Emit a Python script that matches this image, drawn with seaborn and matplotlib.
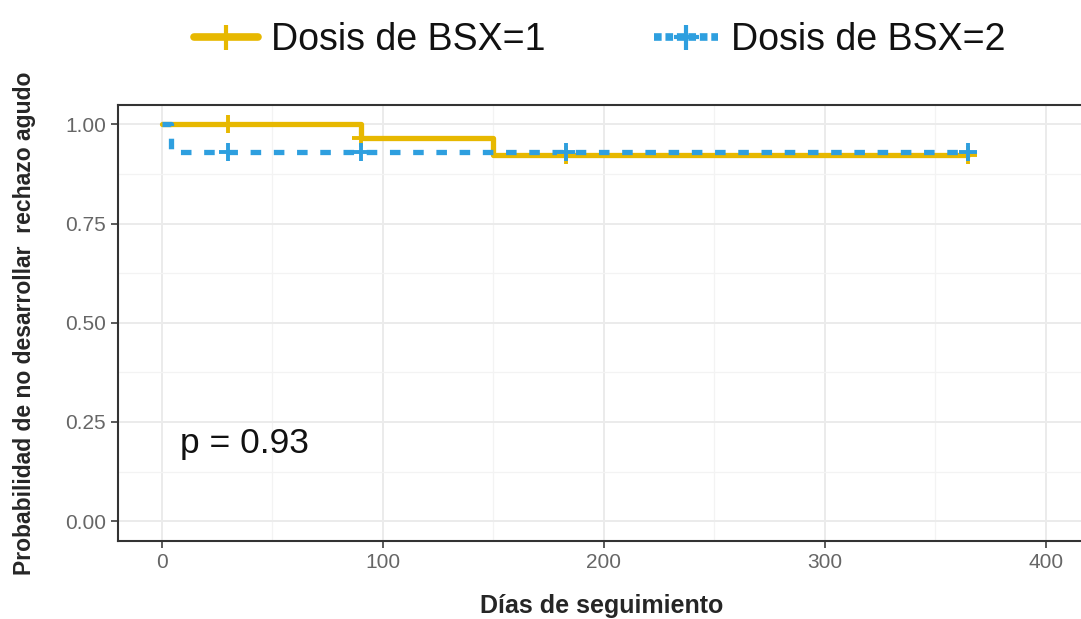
import pandas as pd
import matplotlib.pyplot as plt
import seaborn as sns
from matplotlib.lines import Line2D

# curvas Kaplan-Meier (escalones)
grupos = ["Dosis de BSX=1", "Dosis de BSX=2"]
t_g1 = [0, 90, 150, 365]
s_g1 = [1.0, 0.966, 0.922, 0.922]
t_g2 = [0, 4, 365]
s_g2 = [1.0, 0.929, 0.929]

# marcas de censura
cens_t_g1 = [30, 90, 183, 365]
cens_s_g1 = [1.0, 0.966, 0.922, 0.922]
cens_t_g2 = [30, 90, 183, 365]
cens_s_g2 = [0.929, 0.929, 0.929, 0.929]

colores = {"Dosis de BSX=1": "#E7B800", "Dosis de BSX=2": "#2E9FDF"}

curvas = pd.concat([
    pd.DataFrame({"tiempo": t_g1, "surv": s_g1, "grupo": grupos[0]}),
    pd.DataFrame({"tiempo": t_g2, "surv": s_g2, "grupo": grupos[1]}),
])
censuras = pd.concat([
    pd.DataFrame({"tiempo": cens_t_g1, "surv": cens_s_g1, "grupo": grupos[0]}),
    pd.DataFrame({"tiempo": cens_t_g2, "surv": cens_s_g2, "grupo": grupos[1]}),
])

sns.set_style("whitegrid")
plt.rcParams['font.family'] = ['Liberation Sans', 'DejaVu Sans']

fig = plt.figure(figsize=(10.81, 6.19), dpi=100)
ax = fig.add_axes([0.109, 0.126, 0.895, 0.704])

# grupo 1 solido, grupo 2 discontinuo encima
sns.lineplot(data=curvas[curvas.grupo == grupos[0]], x="tiempo", y="surv",
             color=colores[grupos[0]], drawstyle="steps-post", estimator=None,
             linewidth=3.8, ax=ax, legend=False)
sns.lineplot(data=curvas[curvas.grupo == grupos[1]], x="tiempo", y="surv",
             color=colores[grupos[1]], drawstyle="steps-post", estimator=None,
             linewidth=3.8, ax=ax, legend=False, linestyle=(0, (2.0, 2.4)))
for g in grupos:
    d = censuras[censuras.grupo == g]
    sns.scatterplot(data=d, x="tiempo", y="surv", marker="+", s=170,
                    color=colores[g], linewidth=2.8, ax=ax, legend=False, zorder=5)

ax.set_xlim(-20, 418)
ax.set_ylim(-0.05, 1.048)
ax.set_xticks([0, 100, 200, 300, 400])
ax.set_yticks([0, 0.25, 0.5, 0.75, 1.0])
ax.set_yticklabels(["0.00", "0.25", "0.50", "0.75", "1.00"])
ax.set_xticks([50, 150, 250, 350], minor=True)
ax.set_yticks([0.125, 0.375, 0.625, 0.875], minor=True)
ax.grid(which="major", color="#EBEBEB", linewidth=1.4)
ax.grid(which="minor", color="#F3F3F3", linewidth=0.9)
ax.tick_params(axis="both", which="major", labelsize=15, colors="#4D4D4D",
               length=5, width=1.3, direction="out", left=True, bottom=True)
ax.tick_params(axis="both", which="minor", length=0)
for lab in ax.get_xticklabels() + ax.get_yticklabels():
    lab.set_color("#666666")
for side in ["left", "bottom", "top"]:
    ax.spines[side].set_color("#333333")
    ax.spines[side].set_linewidth(1.5)
ax.spines["right"].set_visible(False)

ax.set_xlabel("Días de seguimiento", fontsize=18, fontweight="bold", labelpad=16)
ax.set_ylabel("Probabilidad de no desarrollar  rechazo agudo", fontsize=16.5,
              fontweight="bold")
ax.yaxis.set_label_coords(-0.085, 0.5)

ax.text(8, 0.196, "p = 0.93", fontsize=25.5, va="center", ha="left", color="#111111")

handles = [Line2D([0], [0], color=colores[g], linewidth=5.5, marker="+",
                  markersize=18, markeredgewidth=3,
                  linestyle="-" if i == 0 else (0, (1.0, 0.5)))
           for i, g in enumerate(grupos)]
fig.legend(handles, grupos, loc="center", bbox_to_anchor=(0.555, 0.935),
           ncol=2, frameon=False, fontsize=27, handlelength=1.7,
           columnspacing=2.9, handletextpad=0.35, labelcolor="#111111")

plt.savefig("out.png", dpi=100)
